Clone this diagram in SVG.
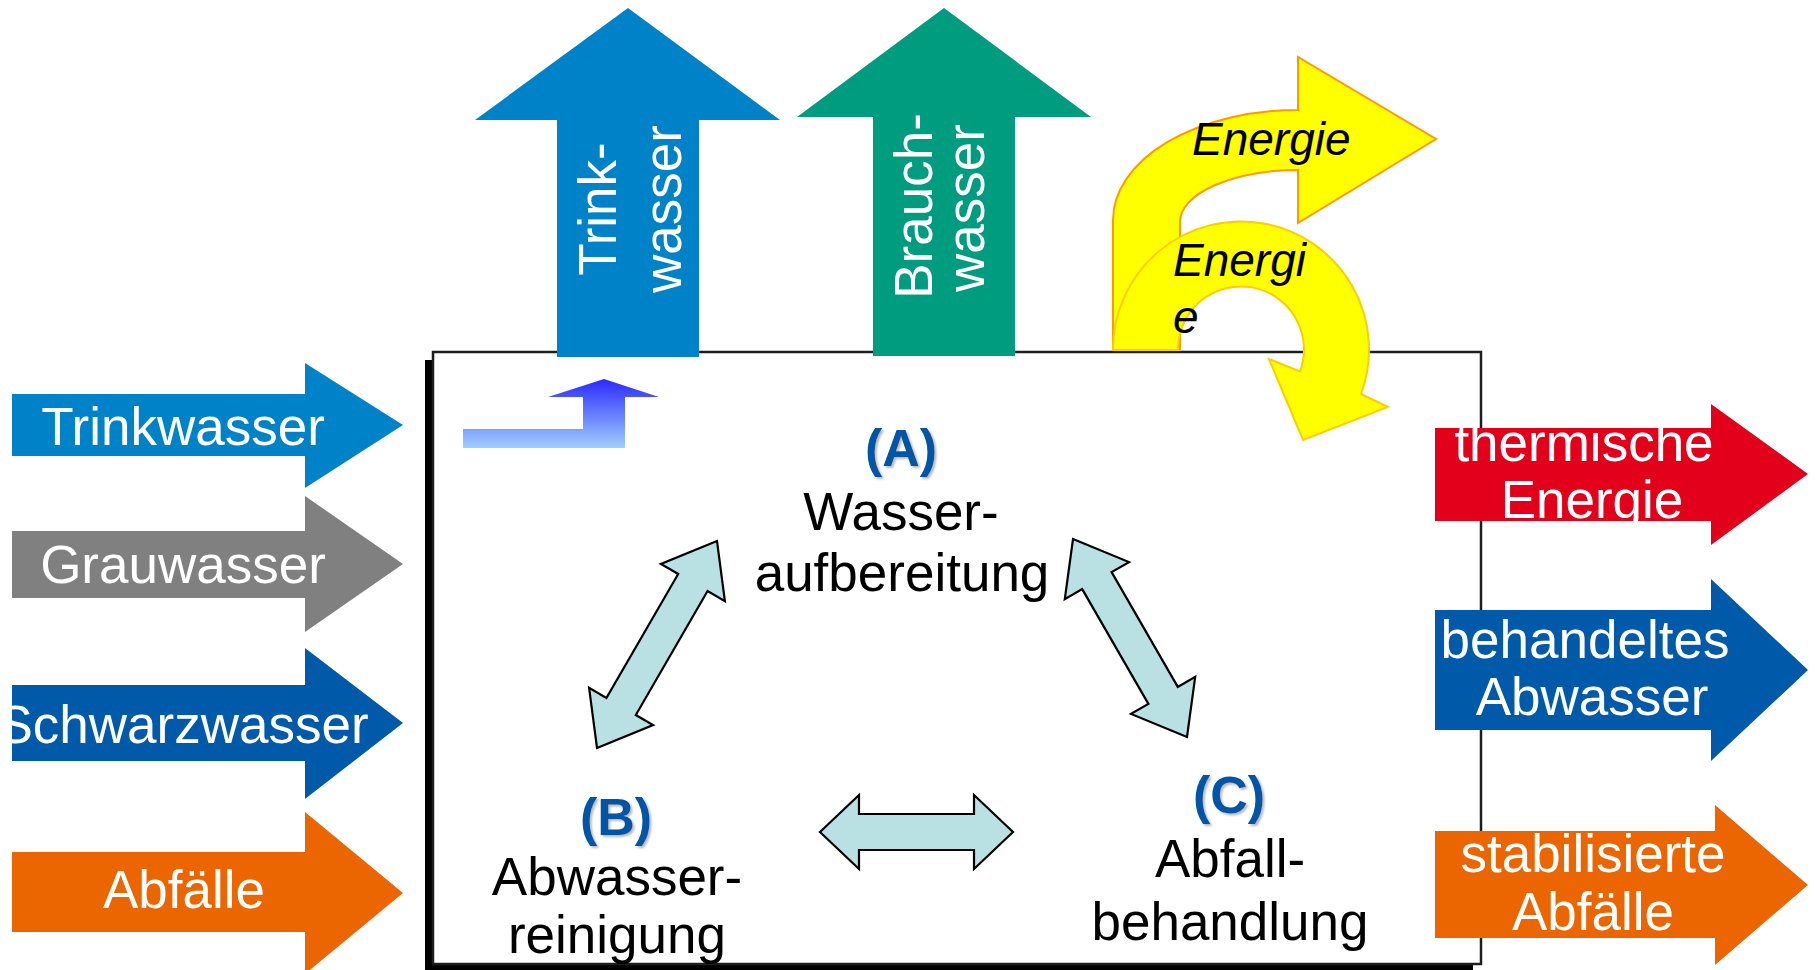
<svg xmlns="http://www.w3.org/2000/svg" width="1818" height="970" viewBox="0 0 1818 970">
  <style>
    text { font-family: "Liberation Sans", Arial, sans-serif; }
    .w { fill: #FFFFFF; font-size: 53px; text-anchor: middle; }
    .b { fill: #000000; font-size: 53px; text-anchor: middle; }
    .lab { fill: #0057A6; font-size: 52px; font-weight: bold; text-anchor: middle; filter: url(#sh); }
    .en { fill: #000000; font-size: 46px; font-style: italic; }
    .dbl { fill: #B9E0E3; stroke: #000000; stroke-width: 2.2; stroke-linejoin: miter; }
  </style>
  <defs>
    <linearGradient id="gBlue" gradientUnits="userSpaceOnUse" x1="0" y1="379" x2="0" y2="448">
      <stop offset="0" stop-color="#2A2AFF"/>
      <stop offset="1" stop-color="#A0CEFF"/>
    </linearGradient>
    <filter id="sh" x="-10%" y="-10%" width="130%" height="130%">
      <feDropShadow dx="2" dy="2" stdDeviation="1" flood-color="#7F7F7F" flood-opacity="0.55"/>
    </filter>
    <clipPath id="cTherm"><polygon points="1435,428 1711,428 1711,404 1808,474 1711,545 1711,521 1435,521"/></clipPath>
    <clipPath id="cBeh"><polygon points="1435,610 1711,610 1711,579 1808,670 1711,761 1711,730 1435,730"/></clipPath>
    <clipPath id="cStab"><polygon points="1435,831 1715,831 1715,805 1808,885 1715,965 1715,938 1435,938"/></clipPath>
  </defs>

  <rect width="1818" height="970" fill="#FFFFFF"/>

  <!-- main system box -->
  <g id="box">
    <rect x="425" y="360" width="1048" height="612" fill="#000000"/>
    <rect x="433" y="352" width="1048" height="612" fill="#FFFFFF" stroke="#1E1E1E" stroke-width="2.5"/>
  </g>

  <!-- small bent arrow -->
  <g id="small-arrow">
    <polygon points="463,429 583,429 583,397 548,397 604,379 659,397 625,397 625,448 463,448" fill="url(#gBlue)"/>
  </g>

  <!-- nodes inside box -->
  <g id="node-A">
    <text class="lab" x="901" y="466">(A)</text>
    <text class="b" x="901" y="530">Wasser-</text>
    <text class="b" x="902" y="591">aufbereitung</text>
  </g>
  <g id="node-B">
    <text class="lab" x="616" y="835">(B)</text>
    <text class="b" x="617" y="895">Abwasser-</text>
    <text class="b" x="617" y="953">reinigung</text>
  </g>
  <g id="node-C">
    <text class="lab" x="1229" y="813">(C)</text>
    <text class="b" x="1230" y="877">Abfall-</text>
    <text class="b" x="1230" y="940">behandlung</text>
  </g>

  <!-- connectors -->
  <g id="connectors">
    <polygon class="dbl" points="597,748 653.1,725.1 635.8,715 707.6,591 724.9,601.1 717,541 660.9,563.9 678.2,574 606.4,698 589.1,687.9"/>
    <polygon class="dbl" points="1073,539 1129,562.1 1111.6,572.1 1177.8,686.9 1195.2,676.9 1187,737 1131,713.9 1148.4,703.9 1082.2,589.1 1064.8,599.1"/>
    <polygon class="dbl" points="820,832 859,795 859,814 974,814 974,795 1013,832 974,869 974,850 859,850 859,869"/>
  </g>

  <!-- outputs at top -->
  <g id="out-trinkwasser">
    <polygon points="557,357 557,120 475,120 628,8 780,120 699,120 699,357" fill="#0082C9"/>
    <text class="w" transform="translate(616,209) rotate(-90)">Trink-</text>
    <text class="w" transform="translate(681,209) rotate(-90)">wasser</text>
  </g>
  <g id="out-brauchwasser">
    <polygon points="873,356 873,117 797,117 944,8 1091,117 1015,117 1015,356" fill="#009C7F"/>
    <text class="w" transform="translate(932,206) rotate(-90)">Brauch-</text>
    <text class="w" transform="translate(984,208) rotate(-90)">wasser</text>
  </g>

  <!-- energy arrows -->
  <g id="energie-out">
    <path d="M1113,349 V220 A185,110 0 0 1 1298,110 V57 L1436,139 L1298,223 V170 A118,52 0 0 0 1180,222 V349 Z" fill="#FFFF00" stroke="#FF9900" stroke-width="2"/>
    <text class="en" x="1192" y="155">Energie</text>
  </g>
  <g id="energie-loop">
    <path d="M1113,350 A128,128 0 1 1 1361,394 L1388,407 L1303,440 L1269,359 L1300,371.5 A63,63 0 1 0 1178,350 Z" fill="#FFFF00" stroke="#FFCC00" stroke-width="2"/>
    <text class="en" x="1173" y="276">Energi</text>
    <text class="en" x="1173" y="333">e</text>
  </g>

  <!-- inputs on the left -->
  <g id="in-trinkwasser">
    <polygon points="12,394 305,394 305,363 403,425 305,488 305,456 12,456" fill="#0082C9"/>
    <text class="w" x="183" y="445">Trinkwasser</text>
  </g>
  <g id="in-grauwasser">
    <polygon points="12,531 305,531 305,496 403,564 305,632 305,598 12,598" fill="#808080"/>
    <text class="w" x="183" y="583">Grauwasser</text>
  </g>
  <g id="in-schwarzwasser">
    <polygon points="12,685 305,685 305,648 403,723 305,799 305,761 12,761" fill="#005AA9"/>
    <text class="w" x="183" y="743">Schwarzwasser</text>
  </g>
  <g id="in-abfaelle">
    <polygon points="12,852 305,852 305,812 403,893 305,974 305,932 12,932" fill="#EB6500"/>
    <text class="w" x="184" y="908">Abfälle</text>
  </g>

  <!-- outputs on the right -->
  <g id="out-thermische-energie">
    <polygon points="1435,428 1711,428 1711,404 1808,474 1711,545 1711,521 1435,521" fill="#E2001A"/>
    <g clip-path="url(#cTherm)">
      <text class="w" x="1584" y="461">thermische</text>
      <text class="w" x="1592" y="518">Energie</text>
    </g>
  </g>
  <g id="out-behandeltes-abwasser">
    <polygon points="1435,610 1711,610 1711,579 1808,670 1711,761 1711,730 1435,730" fill="#005AA9"/>
    <g clip-path="url(#cBeh)">
      <text class="w" x="1585" y="658">behandeltes</text>
      <text class="w" x="1592" y="715">Abwasser</text>
    </g>
  </g>
  <g id="out-stabilisierte-abfaelle">
    <polygon points="1435,831 1715,831 1715,805 1808,885 1715,965 1715,938 1435,938" fill="#EB6500"/>
    <g clip-path="url(#cStab)">
      <text class="w" x="1593" y="872">stabilisierte</text>
      <text class="w" x="1593" y="930">Abfälle</text>
    </g>
  </g>
</svg>
